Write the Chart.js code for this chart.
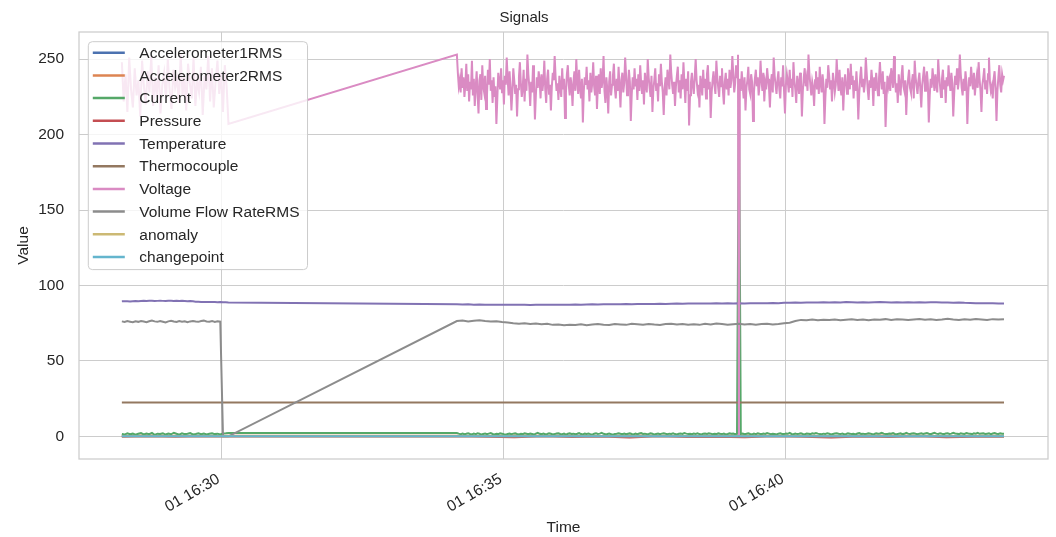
<!DOCTYPE html>
<html>
<head>
<meta charset="utf-8">
<title>Signals</title>
<script src="https://cdn.jsdelivr.net/npm/chart.js@4.4.0/dist/chart.umd.min.js"></script>
<style>
  html, body { margin: 0; padding: 0; background: #fff; }
  #chart { display: block; }
</style>
</head>
<body>
<canvas id="chart" width="1056" height="537"></canvas>
<script>
// Signals - sensor log around 16:28 to 16:44 (x = minutes after 16:00)

// two recording segments, [first row, last row]
const SEG_A = [28.23, 30.12];
const SEG_B = [34.17, 43.87];

const xTickPos = [30, 35, 40];
const xTickLabels = ['01 16:30', '01 16:35', '01 16:40'];
const yTicks = [0, 50, 100, 150, 200, 250];

// Voltage (dense)
const voltageA = [
  248, 222, 240, 215, 251, 230, 218, 244, 226, 236,
  212, 249, 232, 220, 242, 228, 252, 219, 238, 225,
  246, 214, 233, 241, 223, 250, 229, 217, 243, 231,
  237, 221, 253, 226, 240, 216, 247, 234, 224, 251,
  219, 236, 228, 245, 213, 239, 230, 252, 222, 244,
  218, 235, 249, 227, 241, 215, 246, 232, 207
];
const voltageB = [
  253, 241, 232, 236, 228, 244, 231, 238, 225, 233,
  247, 229, 240, 222, 235, 230, 249, 226, 237, 219,
  231, 242, 227, 214, 236, 240, 223, 246, 232, 228,
  239, 217, 226, 243, 233, 250, 229, 236, 221, 238,
  225, 232, 207, 224, 241, 235, 230, 244, 228, 236,
  220, 239, 233, 251, 237, 226, 242, 231, 216, 229,
  244, 236, 227, 233, 212, 230, 238, 248, 234, 225,
  231, 243, 222, 237, 229, 253, 240, 232, 219, 235,
  228, 246, 233, 210, 226, 238, 231, 242, 236, 224,
  240, 229, 235, 249, 230, 221, 237, 243, 227, 233,
  216, 232, 241, 236, 252, 238, 229, 234, 223, 239,
  231, 225, 244, 230, 237, 211, 228, 240, 246, 233,
  226, 238, 232, 219, 235, 242, 229, 250, 236, 227,
  243, 231, 224, 237, 208, 229, 238, 233, 245, 230,
  236, 222, 241, 228, 234, 248, 232, 226, 239, 217,
  233, 240, 227, 244, 231, 236, 252, 229, 221, 238,
  230, 214, 235, 242, 226, 233, 239, 247, 231, 224,
  237, 229, 245, 232, 218, 236, 241, 228, 234, 251,
  239, 226, 231, 243, 235, 209, 227, 238, 230, 244,
  232, 237, 223, 240, 229, 246, 234, 227, 236, 220,
  241, 233, 228, 250, 238, 231, 225, 239, 215, 230,
  236, 244, 229, 234, 222, 240, 232, 247, 235, 228,
  213, 231, 238, 226, 243, 237, 230, 253, 241, 233,
  227, 235, 219, 232, 239, 245, 228, 236, 224, 240,
  230, 248, 234, 221, 237, 229, 242, 206, 226, 235,
  241, 232, 227, 238, 250, 236, 229, 233, 218, 239,
  234, 226, 243, 231, 237, 224, 240, 246, 230, 235,
  211, 228, 236, 242, 233, 227, 249, 238, 231, 225,
  239, 232, 244, 229, 220, 235, 241, 230, 237, 226,
  243, 231, 236, 252, 240, 228, 234, 246, 238, 253,
  0, 237, 229, 242, 233, 224, 238, 216, 231, 236,
  245, 230, 227, 240, 235, 209, 228, 237, 243, 232,
  238, 226, 233, 249, 236, 229, 241, 222, 234, 230,
  244, 237, 231, 218, 235, 240, 228, 251, 239, 233,
  227, 236, 242, 230, 224, 238, 232, 246, 229, 214,
  233, 240, 235, 228, 243, 231, 237, 225, 248, 236,
  230, 221, 239, 234, 227, 241, 236, 212, 229, 238,
  244, 232, 237, 229, 253, 240, 233, 226, 235, 231,
  219, 236, 242, 230, 238, 227, 245, 234, 228, 240,
  233, 207, 225, 237, 231, 246, 239, 230, 236, 222,
  241, 235, 228, 233, 250, 237, 229, 243, 231, 226,
  238, 216, 232, 240, 234, 227, 244, 236, 230, 247,
  233, 239, 224, 236, 229, 242, 231, 210, 227, 238,
  245, 232, 237, 228, 234, 251, 240, 230, 223, 236,
  231, 243, 235, 219, 238, 229, 241, 233, 226, 237,
  248, 236, 230, 242, 227, 235, 205, 224, 239, 232,
  236, 229, 244, 238, 231, 252, 237, 228, 234, 221,
  240, 233, 226, 239, 246, 232, 229, 236, 213, 230,
  237, 243, 231, 228, 235, 240, 224, 249, 238, 232,
  227, 236, 241, 230, 218, 233, 239, 245, 229, 235,
  242, 234, 208, 226, 237, 231, 244, 236, 229, 240,
  233, 228, 250, 239, 232, 225, 237, 243, 230, 236,
  221, 238, 232, 246, 235, 229, 241, 234, 212, 227,
  239, 233, 244, 230, 236, 253, 240, 231, 226, 237,
  229, 242, 235, 207, 228, 238, 232, 245, 236, 230,
  241, 226, 234, 239, 231, 248, 237, 229, 215, 233,
  238, 244, 230, 236, 227, 240, 251, 235, 229, 232,
  224, 237, 242, 231, 209, 229, 238, 246, 233, 228,
  240, 236, 239
];

// Current (one bad row where it reads the voltage)
const currentA = [
  1.6, 1.2, 2.0, 1.4, 1.8, 1.1, 1.7, 2.2, 1.3, 1.9,
  1.5, 2.3, 1.0, 1.8, 1.6, 2.1, 1.2, 1.9, 1.4, 2.4,
  1.7, 1.1, 2.0, 1.5, 1.8, 2.2, 1.3, 1.6, 2.0, 1.4,
  1.9, 1.2, 1.7, 2.1, 1.5, 1.8, 1.3, 1.9, 2.0, 2.2
];
const currentB = [
  2.2, 1.8, 1.5, 1.9, 1.4, 1.7, 2.1, 1.6, 1.3, 1.8,
  1.5, 2.0, 1.7, 1.2, 1.6, 1.9, 1.4, 1.8, 2.2, 1.6,
  1.3, 1.7, 1.5, 2.0, 1.8, 1.4, 1.1, 1.6, 1.9, 1.5,
  1.8, 2.1, 1.6, 1.3, 1.7, 1.5, 2.0, 1.7, 1.4, 1.9,
  1.6, 1.2, 1.8, 2.3, 1.7, 1.5, 1.9, 1.4, 1.6, 2.0,
  1.7, 1.3, 1.5, 1.9, 2.1, 1.6, 1.4, 1.8, 1.2, 1.7,
  2.0, 1.6, 1.8, 1.4, 1.7, 2.2, 1.5, 1.3, 1.8, 1.6,
  1.9, 1.5, 1.2, 1.7, 2.0, 1.6, 1.8, 2.3, 1.7, 1.4,
  1.6, 1.9, 1.5, 1.1, 1.6, 1.8, 2.1, 1.7, 1.5, 1.9,
  1.4, 1.7, 2.0, 1.6, 1.3, 1.8, 1.5, 1.9, 2.2, 1.6,
  1.8, 1.4, 1.6, 2.0, 1.7, 1.2, 1.6, 1.9, 1.5, 1.8,
  2.1, 1.7, 1.4, 1.8, 1.6, 2.0, 1.5, 1.3, 1.7, 1.9,
  1.6, 2.2, 1.8, 1.5, 1.7, 1.4, 1.9, 1.6, 2.0, 1.5,
  1.3, 1.7, 1.9, 1.6, 2.1, 1.8, 1.4, 1.7, 1.5, 2.0,
  1.7, 1.5, 1.8, 1.3, 1.6, 2.0, 1.7, 1.9, 1.5, 1.8,
  232, 1.6, 1.9, 1.4, 1.7, 2.1, 1.6, 1.3, 1.8, 1.5,
  2.0, 1.7, 1.5, 1.9, 1.6, 2.2, 1.8, 1.4, 1.7, 1.6,
  1.3, 1.8, 2.0, 1.6, 1.5, 1.9, 1.7, 2.3, 1.6, 1.4,
  1.8, 1.5, 1.7, 2.1, 1.6, 1.3, 1.9, 1.7, 1.5, 2.0,
  1.7, 2.2, 1.8, 1.5, 1.4, 1.8, 1.6, 2.0, 1.7, 1.3,
  1.6, 1.9, 2.1, 1.7, 1.5, 1.8, 1.4, 1.6, 2.0, 1.8,
  1.5, 1.7, 1.3, 1.9, 2.2, 1.6, 1.8, 1.5, 1.7, 2.1,
  1.8, 1.4, 1.6, 2.0, 1.7, 1.9, 2.4, 1.8, 1.5, 1.6,
  1.9, 1.7, 2.2, 1.6, 1.4, 1.8, 2.0, 1.5, 1.7, 2.3,
  1.8, 1.6, 1.9, 2.1, 1.7, 1.4, 1.8, 2.0, 1.6, 1.9,
  2.2, 1.7, 1.5, 1.9, 2.3, 1.8, 1.6, 2.0, 1.7, 1.5,
  1.9, 2.1, 1.6, 1.8, 2.4, 1.9, 1.7, 1.5, 2.0, 1.8,
  1.6, 2.2, 1.9, 1.7, 1.5, 2.0, 1.8, 2.3, 1.7, 1.9,
  2.1, 1.6, 1.8, 2.0, 1.5, 1.9, 2.2, 1.7, 1.6, 2.0,
  1.8, 1.7
];

// Temperature
const temperatureA = [
  89.5, 89.6, 89.5, 89.4, 89.6, 89.7, 89.6, 89.7, 89.8, 89.7,
  89.8, 89.8, 89.7, 89.8, 89.9, 89.8, 89.7, 89.8, 89.8, 89.7,
  89.8, 89.7, 89.8, 89.7, 89.6, 89.7, 89.5, 89.3, 89.2, 89.1,
  89.1, 89.0, 89.0, 89.1, 89.0, 88.9, 89.0, 88.9, 88.9, 88.8
];
const temperatureB = [
  87.5, 87.4, 87.5, 87.3, 87.4, 87.3, 87.2, 87.3, 87.2, 87.3, 87.2, 87.3, 87.2, 87.1, 87.2, 87.3, 87.2, 87.3, 87.2, 87.3,
  87.3, 87.4, 87.3, 87.4, 87.5, 87.4, 87.5, 87.6, 87.5, 87.6, 87.7, 87.6, 87.7, 87.8, 87.7, 87.8, 87.9, 87.8, 87.9, 88.0,
  87.9, 88.0, 88.1, 88.0, 88.1, 88.0, 88.2, 88.1, 88.2, 88.1, 88.2, 88.1, 88.2, 88.3, 88.2, 88.3, 88.4, 88.3, 88.5, 88.6,
  88.7, 88.6, 88.7, 88.8, 88.7, 88.9, 88.8, 88.9, 88.8, 89.0, 88.9, 88.8, 88.9, 88.8, 88.9, 89.0, 88.9, 88.8, 88.9, 88.8,
  88.9, 88.8, 88.9, 88.8, 88.9, 88.9, 88.8, 88.7, 88.6, 88.7, 88.5, 88.4, 88.3, 88.2, 88.3, 88.2, 88.1, 88.1
];

// Volume Flow RateRMS
const flowA = [
  76.2, 75.8, 76.4, 76.0, 75.6, 76.3, 75.9, 76.5, 76.1, 75.7,
  76.3, 76.8, 76.2, 75.9, 76.4, 76.0, 75.5, 76.2, 76.6, 76.1,
  75.8, 76.4, 76.0, 76.3, 75.7, 76.2, 76.5, 76.1, 75.9, 76.4,
  76.7, 76.2, 76.0, 76.5, 75.8, 76.3, 76.1, 0, 0, 0
];
const flowB = [
  76.4, 76.8, 76.2, 76.6, 77.0, 76.5, 76.1, 76.3, 75.8, 75.4, 75.0, 74.7, 74.9, 74.4, 74.8, 74.3, 74.6, 73.9, 74.2, 73.6,
  74.0, 73.8, 74.3, 73.7, 74.1, 74.5, 74.0, 73.8, 74.4, 74.2, 73.9, 74.6, 74.3, 74.0, 74.5, 74.1, 73.8, 74.4, 74.7, 74.2,
  74.5, 74.0, 74.3, 73.9, 74.6, 74.2, 74.8, 74.4, 73.9, 74.3, 74.6, 74.1, 74.5, 74.0, 74.4, 74.7, 74.2, 74.5, 74.9, 75.3,
  76.4, 77.2, 77.0, 77.4, 76.9, 77.3, 77.1, 77.5, 77.0, 77.3, 77.6, 77.2, 77.4, 77.0, 77.5, 77.3, 77.7, 77.2, 77.6, 77.4,
  77.1, 77.5, 77.8, 77.3, 77.6, 77.2, 77.5, 77.9, 77.4, 77.1, 77.6, 77.3, 77.8, 77.5, 77.2, 77.7, 77.4, 77.6
];

// near-constant channels
const pressureA = [-0.2, 0.1, -0.3, 0.1, -0.1];
const pressureB = [0.1, -0.3, -0.6, 0.0, -0.4, -0.1, -0.7, 0.1, -0.5, -0.2, -0.6, 0.1, -0.3, -0.8, -0.1, -0.4, 0.0, -0.6, -0.3, -0.2];
const acc1A = [0.3, 0.2, 0.3, 0.4, 0.3];
const acc1B = [0.3, 0.2, 0.3, 0.3, 0.4, 0.2, 0.3, 0.3, 0.2, 0.4, 0.3, 0.3, 0.2, 0.3, 0.4, 0.3, 0.2, 0.3, 0.3, 0.3];
const acc2A = [0.4, 0.5, 0.4, 0.3, 0.4];
const acc2B = [0.4, 0.3, 0.5, 0.4, 0.4, 0.3, 0.5, 0.4, 0.3, 0.4, 0.5, 0.4, 0.4, 0.3, 0.4, 0.5, 0.4, 0.3, 0.4, 0.4];
const thermoA = [22.5, 22.5, 22.5, 22.5, 22.5];
const thermoB = [22.4, 22.4, 22.4, 22.4, 22.4, 22.4, 22.4, 22.4, 22.4, 22.4, 22.4, 22.4, 22.4, 22.4, 22.4, 22.4, 22.4, 22.4, 22.4, 22.4];
const anomalyA = [0, 0, 0, 0, 0];
const anomalyB = [0, 0, 0, 0, 0, 0, 0, 0, 0, 0, 0, 0, 0, 0, 0, 0, 0, 0, 0, 0];
const changeA = [0, 0, 0, 0, 0];
const changeB = [0, 0, 0, 0, 0, 0, 0, 0, 0, 0, 0, 0, 0, 0, 0, 0, 0, 0, 0, 0];

const TEXT = '#262626';
const GRID = '#cccccc';
const FONT = '"Liberation Sans", Arial, sans-serif';

// rows are evenly spaced inside each segment
function spread(seg, vals) {
  const n = vals.length;
  return vals.map((v, i) => ({ x: seg[0] + (seg[1] - seg[0]) * i / (n - 1), y: v }));
}
function series(a, b) {
  return spread(SEG_A, a).concat(spread(SEG_B, b));
}

const SERIES = [
  ['Accelerometer1RMS', '#4c72b0', acc1A, acc1B],
  ['Accelerometer2RMS', '#dd8452', acc2A, acc2B],
  ['Current', '#55a868', currentA, currentB],
  ['Pressure', '#c44e52', pressureA, pressureB],
  ['Temperature', '#8172b3', temperatureA, temperatureB],
  ['Thermocouple', '#937860', thermoA, thermoB],
  ['Voltage', '#da8bc3', voltageA, voltageB],
  ['Volume Flow RateRMS', '#8c8c8c', flowA, flowB],
  ['anomaly', '#ccb974', anomalyA, anomalyB],
  ['changepoint', '#64b5cd', changeA, changeB]
];

// plot frame (all four spines)
const frame = {
  id: 'frame',
  afterDatasetsDraw(chart) {
    const { ctx, chartArea: a } = chart;
    ctx.save();
    ctx.strokeStyle = GRID;
    ctx.lineWidth = 1.25;
    ctx.strokeRect(a.left, a.top, a.right - a.left, a.bottom - a.top);
    ctx.restore();
  }
};

// legend box in the upper left of the plot, drawn over the lines
const legendBox = {
  id: 'legendBox',
  afterDraw(chart) {
    const { ctx, chartArea: a } = chart;
    const sets = chart.data.datasets;
    const rowH = 22.7;
    const bx = a.left + 9.3, by = a.top + 9.7;
    ctx.save();
    ctx.font = '15.5px ' + FONT;
    const textW = Math.max(...sets.map(d => ctx.measureText(d.label).width));
    const w = 51 + textW + 8;
    const h = 11 + (sets.length - 1) * rowH + 12.6;
    ctx.beginPath();
    ctx.roundRect(bx, by, w, h, 4);
    ctx.fillStyle = 'rgba(255,255,255,0.8)';
    ctx.fill();
    ctx.strokeStyle = GRID;
    ctx.lineWidth = 1;
    ctx.stroke();
    ctx.textBaseline = 'middle';
    ctx.textAlign = 'left';
    sets.forEach((d, i) => {
      const y = by + 11 + i * rowH;
      ctx.beginPath();
      ctx.moveTo(bx + 4.5, y);
      ctx.lineTo(bx + 36.5, y);
      ctx.strokeStyle = d.borderColor;
      ctx.lineWidth = 2.5;
      ctx.stroke();
      ctx.fillStyle = TEXT;
      ctx.fillText(d.label, bx + 51, y + 1);
    });
    ctx.restore();
  }
};

Chart.defaults.font.family = FONT;

new Chart(document.getElementById('chart').getContext('2d'), {
  type: 'line',
  data: {
    datasets: SERIES.map(([label, color, a, b], i) => ({
      label,
      data: series(a, b),
      borderColor: color,
      backgroundColor: color,
      borderWidth: 2,
      pointRadius: 0,
      tension: 0,
      fill: false,
      order: SERIES.length - i
    }))
  },
  options: {
    responsive: false,
    animation: false,
    events: [],
    layout: { padding: { top: 0, right: 8, bottom: 0, left: 0 } },
    plugins: {
      legend: { display: false },
      tooltip: { enabled: false },
      title: {
        display: true,
        text: 'Signals',
        color: TEXT,
        font: { size: 15, weight: 'normal' },
        padding: { top: 9, bottom: 5 }
      }
    },
    scales: {
      x: {
        type: 'linear',
        min: 27.47,
        max: 44.65,
        afterBuildTicks: s => { s.ticks = xTickPos.map(v => ({ value: v })); },
        afterFit: s => { s.height = 78; },
        grid: { color: GRID, lineWidth: 1, drawTicks: false },
        border: { display: false },
        ticks: {
          color: TEXT,
          font: { size: 15.5 },
          minRotation: 30,
          maxRotation: 30,
          padding: 11,
          labelOffset: -3,
          callback: (v, i) => xTickLabels[i]
        },
        title: {
          display: true,
          text: 'Time',
          color: TEXT,
          font: { size: 15.5 },
          padding: { top: 0, bottom: 0 }
        }
      },
      y: {
        type: 'linear',
        min: -15,
        max: 268,
        afterBuildTicks: s => { s.ticks = yTicks.map(v => ({ value: v })); },
        afterFit: s => { s.width = 79; },
        grid: { color: GRID, lineWidth: 1, drawTicks: false },
        border: { display: false },
        ticks: {
          color: TEXT,
          font: { size: 15.5 },
          padding: 15,
          callback: v => String(v)
        },
        title: {
          display: true,
          text: 'Value',
          color: TEXT,
          font: { size: 15.5 },
          padding: { top: 14, bottom: 0 }
        }
      }
    }
  },
  plugins: [frame, legendBox]
});
</script>
</body>
</html>
